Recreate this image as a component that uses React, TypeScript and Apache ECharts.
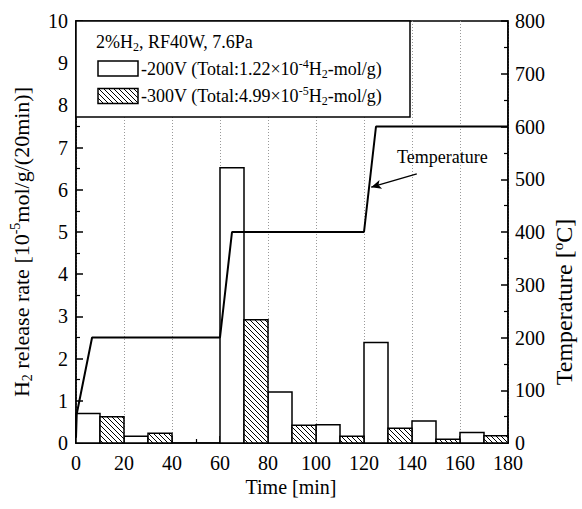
import React, { useEffect, useRef } from 'react';
import * as echarts from 'echarts';

const FONT = 'Liberation Serif';

const binWidth = 10;
const whiteStarts = [0, 20, 60, 80, 100, 120, 140, 160];
const whiteValues = [0.70, 0.16, 6.52, 1.21, 0.43, 2.38, 0.52, 0.25];
const hatchStarts = [10, 30, 70, 90, 110, 130, 150, 170];
const hatchValues = [0.62, 0.23, 2.92, 0.42, 0.16, 0.35, 0.09, 0.17];
const tempTimes = [0, 0.3, 6.7, 60, 65, 120, 125, 180];
const tempValues = [10, 55, 200, 200, 400, 400, 600, 600];
const arrowFrom = [142, 510];
const arrowTo = [123, 485];

function makeHatch() {
  const s = 5;
  const c = document.createElement('canvas');
  c.width = s;
  c.height = s;
  const ctx = c.getContext('2d')!;
  ctx.fillStyle = '#fff';
  ctx.fillRect(0, 0, s, s);
  ctx.strokeStyle = '#000';
  ctx.lineWidth = 1;
  ctx.beginPath();
  ctx.moveTo(-1, -1);
  ctx.lineTo(s + 1, s + 1);
  ctx.moveTo(-1, s - 1);
  ctx.lineTo(1, s + 1);
  ctx.moveTo(s - 1, -1);
  ctx.lineTo(s + 1, 1);
  ctx.stroke();
  return c;
}

export default function App() {
  const ref = useRef<HTMLDivElement>(null);
  useEffect(() => {
    document.body.style.margin = '0';
    const chart = echarts.init(ref.current!, undefined, { renderer: 'svg' });
    const hatch = { image: makeHatch(), repeat: 'repeat' };
    const barItem = (fill: any) => (params: any, api: any) => {
      const x0 = api.value(0), x1 = api.value(1), v = api.value(2);
      const a = api.coord([x0, v]);
      const b = api.coord([x1, 0]);
      return {
        type: 'rect',
        shape: { x: a[0], y: a[1], width: b[0] - a[0], height: b[1] - a[1] },
        style: { fill, stroke: '#000', lineWidth: 1.5 },
      };
    };
    const axisText = { fontFamily: FONT, fontSize: 20, color: '#000', lineHeight: 16 };
    const rich = {
      n: { fontFamily: FONT, fontSize: 18, color: '#000', lineHeight: 22 },
      sub: { fontFamily: FONT, fontSize: 12, color: '#000', lineHeight: 12, verticalAlign: 'bottom' },
      sup: { fontFamily: FONT, fontSize: 12, color: '#000', lineHeight: 12, verticalAlign: 'top' },
    };
    const richLeft = {
      n: { fontFamily: FONT, fontSize: 22, color: '#000', lineHeight: 26 },
      sub: { fontFamily: FONT, fontSize: 14, color: '#000', lineHeight: 14, verticalAlign: 'bottom' },
      sup: { fontFamily: FONT, fontSize: 14, color: '#000', lineHeight: 14, verticalAlign: 'top' },
    };
    const richRight = {
      n: { fontFamily: FONT, fontSize: 24, color: '#000', lineHeight: 28 },
      sup: { fontFamily: FONT, fontSize: 15, color: '#000', lineHeight: 15, verticalAlign: 'top' },
    };
    chart.setOption({
      animation: false,
      textStyle: { fontFamily: FONT },
      grid: { left: 76, right: 74, top: 21, bottom: 66, show: true, borderColor: '#000', borderWidth: 1.5, backgroundColor: 'transparent' },
      xAxis: {
        type: 'value', min: 0, max: 180, interval: 20,
        axisLine: { show: true, lineStyle: { color: '#000', width: 1.5 } },
        axisTick: { show: true, inside: true, length: 7, lineStyle: { color: '#000', width: 1.5 } },
        minorTick: { show: true, splitNumber: 2, length: 4, lineStyle: { color: '#000', width: 1.2 } },
        splitLine: { show: true, lineStyle: { color: '#999', width: 1, type: [1, 2] } },
        axisLabel: { ...axisText, margin: 12 },
      },
      yAxis: [
        {
          type: 'value', min: 0, max: 10, interval: 1,
          axisLine: { show: true, lineStyle: { color: '#000', width: 1.5 } },
          axisTick: { show: true, inside: true, length: 7, lineStyle: { color: '#000', width: 1.5 } },
          minorTick: { show: true, splitNumber: 2, length: 4, lineStyle: { color: '#000', width: 1.2 } },
          splitLine: { show: false },
          axisLabel: { ...axisText, margin: 8 },
        },
        {
          type: 'value', min: 0, max: 800, interval: 100, position: 'right',
          axisLine: { show: true, lineStyle: { color: '#000', width: 1.5 } },
          axisTick: { show: true, inside: true, length: 7, lineStyle: { color: '#000', width: 1.5 } },
          minorTick: { show: true, splitNumber: 2, length: 4, lineStyle: { color: '#000', width: 1.2 } },
          splitLine: { show: false },
          axisLabel: { ...axisText, margin: 7 },
        },
      ],
      series: [
        {
          type: 'custom', name: '-200V', renderItem: barItem('#fff'), encode: { x: [0, 1], y: 2 },
          data: whiteStarts.map((s, i) => [s, s + binWidth, whiteValues[i]]), z: 3,
        },
        {
          type: 'custom', name: '-300V', renderItem: barItem(hatch), encode: { x: [0, 1], y: 2 },
          data: hatchStarts.map((s, i) => [s, s + binWidth, hatchValues[i]]), z: 3,
        },
        {
          type: 'line', yAxisIndex: 1, symbol: 'none', z: 5,
          lineStyle: { color: '#000', width: 2 },
          data: tempTimes.map((t, i) => [t, tempValues[i]]),
          markLine: {
            silent: true, symbol: ['none', 'arrow'], symbolSize: [7, 10],
            lineStyle: { color: '#000', width: 1.3, type: 'solid' },
            label: { show: false },
            data: [[{ coord: arrowFrom }, { coord: arrowTo }]],
          },
        },
      ],
      graphic: [
        {
          type: 'rect', z: 10, shape: { x: 76, y: 21, width: 334, height: 96 },
          style: { fill: '#fff', stroke: '#000', lineWidth: 1.5 },
        },
        {
          type: 'text', z: 11, x: 96, y: 42,
          style: { text: '{n|2%H}{sub|2}{n|, RF40W, 7.6Pa}', rich, verticalAlign: 'middle', align: 'left' },
        },
        {
          type: 'rect', z: 11, shape: { x: 98, y: 61, width: 40, height: 15 },
          style: { fill: '#fff', stroke: '#000', lineWidth: 1.5 },
        },
        {
          type: 'text', z: 11, x: 141, y: 68.5,
          style: { text: '{n|-200V (Total:1.22×10}{sup|-4}{n|H}{sub|2}{n|-mol/g)}', rich, verticalAlign: 'middle', align: 'left' },
        },
        {
          type: 'rect', z: 11, shape: { x: 98, y: 88.5, width: 40, height: 15 },
          style: { fill: hatch, stroke: '#000', lineWidth: 1.5 },
        },
        {
          type: 'text', z: 11, x: 141, y: 96,
          style: { text: '{n|-300V (Total:4.99×10}{sup|-5}{n|H}{sub|2}{n|-mol/g)}', rich, verticalAlign: 'middle', align: 'left' },
        },
        {
          type: 'text', z: 11, x: 397, y: 157,
          style: { text: 'Temperature', fontFamily: FONT, fontSize: 18, fill: '#000', verticalAlign: 'middle', align: 'left' },
        },
        {
          type: 'text', z: 11, x: 291, y: 487,
          style: { text: 'Time [min]', fontFamily: FONT, fontSize: 20, fill: '#000', verticalAlign: 'middle', align: 'center' },
        },
        {
          type: 'text', z: 11, x: 21, y: 242, rotation: Math.PI / 2,
          style: { text: '{n|H}{sub|2}{n| release rate [10}{sup|-5}{n|mol/g/(20min)]}', rich: richLeft, verticalAlign: 'middle', align: 'center' },
        },
        {
          type: 'text', z: 11, x: 564, y: 302, rotation: Math.PI / 2,
          style: { text: '{n|Temperature [}{sup|o}{n|C]}', rich: richRight, verticalAlign: 'middle', align: 'center' },
        },
      ],
    });
    return () => chart.dispose();
  }, []);
  return <div ref={ref} style={{ width: 582, height: 509 }} />;
}
